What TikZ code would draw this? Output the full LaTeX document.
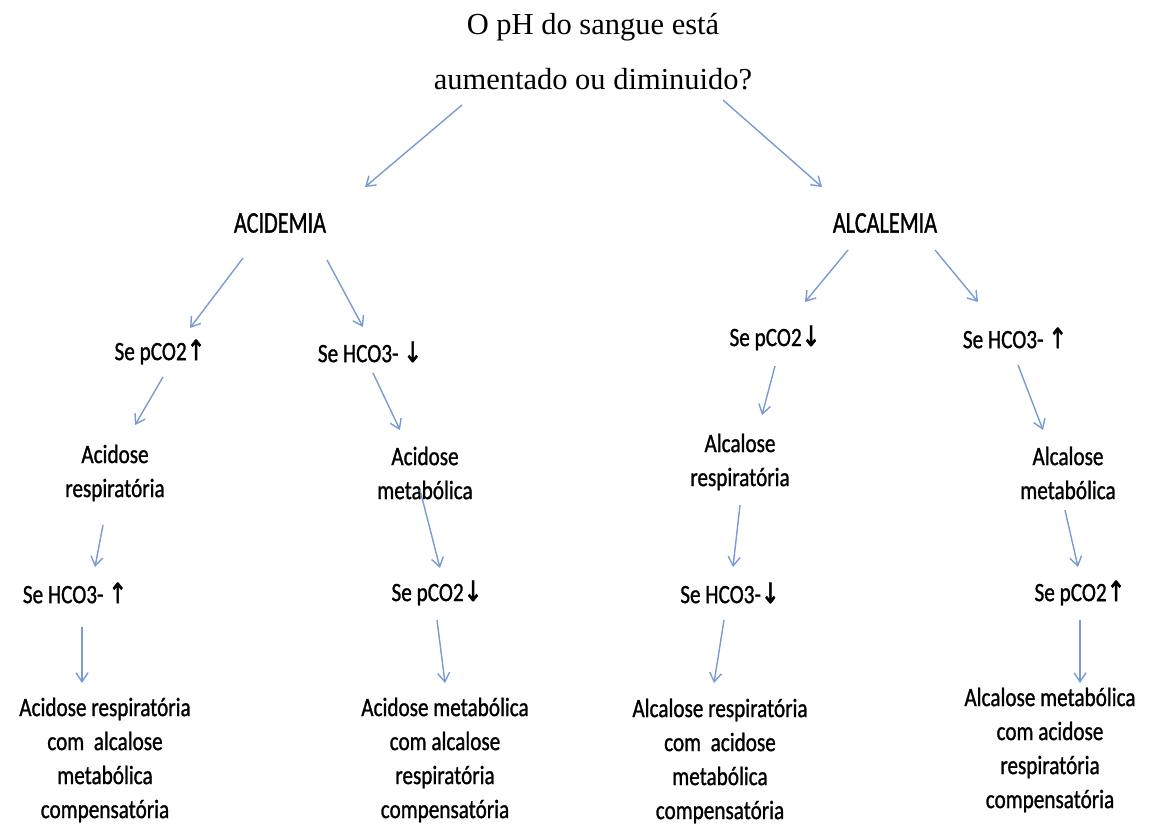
\documentclass[tikz,border=0pt]{standalone}
\usepackage{fontspec}
\setmainfont{Liberation Serif}
\newfontfamily\boxfont[FakeStretch=0.8,FakeBold=1]{Carlito}
\newfontfamily\headfont[FakeStretch=0.74,FakeBold=1]{Carlito}
\newfontfamily\arrowfont[FakeStretch=0.8,FakeBold=2]{DejaVu Sans}
\usetikzlibrary{arrows.meta}
\definecolor{arrowBlue}{RGB}{120,155,210}
\newcommand{\arrUp}{{\arrowfont\fontsize{28}{34}\selectfont ↑}}
\newcommand{\arrDown}{{\arrowfont\fontsize{28}{34}\selectfont ↓}}

\begin{document}
\begin{tikzpicture}[x=1pt,y=-1pt,%%
  arrowStyle/.style={-{Straight Barb[length=9pt,width=12pt]},arrowBlue,line width=1.4pt},%%
  textStyle/.style={font=\boxfont\fontsize{26.5}{34}\selectfont,align=center,inner sep=0pt},%%
  headStyle/.style={font=\headfont\fontsize{30}{34}\selectfont,inner sep=0pt},%%
  titleStyle/.style={font=\fontsize{30.5}{55}\selectfont,align=center,inner sep=0pt}%%
]
%%
\useasboundingbox (0,0) rectangle (1154,828);
%%
%% The question on top.
\node[titleStyle] (title) at (593,52) {O pH do sangue está\\aumentado ou diminuido?};
%%
%% First level.
\node[headStyle] (acid) at (280,223) {ACIDEMIA};
\node[headStyle] (alcal) at (885,223) {ALCALEMIA};
%%
%% Second level.
\node[textStyle] (lpA) at (160,352) {Se pCO2\arrUp};
\node[textStyle] (lhA) at (370,352) {Se HCO3- \arrDown};
\node[textStyle] (rpA) at (775,338) {Se pCO2\arrDown};
\node[textStyle] (rhA) at (1015,338) {Se HCO3- \arrUp};
%%
%% The four disorders.
\node[textStyle] (acidResp) at (115,473) {Acidose\\respiratória};
\node[textStyle] (acidMet) at (425,473) {Acidose\\metabólica};
\node[textStyle] (alcResp) at (740,462) {Alcalose\\respiratória};
\node[textStyle] (alcMet) at (1068,473) {Alcalose\\metabólica};
%%
%% Third level.
\node[textStyle] (lhB) at (75,593) {Se HCO3- \arrUp};
\node[textStyle] (lpB) at (437,593) {Se pCO2\arrDown};
\node[textStyle] (rhB) at (730,593) {Se HCO3-\arrDown};
\node[textStyle] (rpB) at (1080,593) {Se pCO2\arrUp};
%%
%% Compensated disorders.
\node[textStyle] (finA) at (105,760) {Acidose respiratória\\com~ alcalose\\metabólica\\compensatória};
\node[textStyle] (finB) at (445,760) {Acidose metabólica\\com alcalose\\respiratória\\compensatória};
\node[textStyle] (finC) at (720,761) {Alcalose respiratória\\com~ acidose\\metabólica\\compensatória};
\node[textStyle] (finD) at (1050,750) {Alcalose metabólica\\com acidose\\respiratória\\compensatória};
%%
%% Arrows.
\draw[arrowStyle] ([shift={(-131,53)}]title.center) -- ([shift={(85,-36)}]acid.center);
\draw[arrowStyle] ([shift={(130,48)}]title.center) -- ([shift={(-63,-36)}]alcal.center);
%%
\draw[arrowStyle] ([shift={(-37,35)}]acid.center) -- ([shift={(30,-24)}]lpA.center);
\draw[arrowStyle] ([shift={(47,37)}]acid.center) -- ([shift={(-7,-25)}]lhA.center);
\draw[arrowStyle] ([shift={(-37,27)}]alcal.center) -- ([shift={(30,-36)}]rpA.center);
\draw[arrowStyle] ([shift={(50,27)}]alcal.center) -- ([shift={(-37,-36)}]rhA.center);
%%
\draw[arrowStyle] ([shift={(3,25)}]lpA.center) -- ([shift={(20,-48)}]acidResp.center);
\draw[arrowStyle] ([shift={(3,21)}]lhA.center) -- ([shift={(-25,-43)}]acidMet.center);
\draw[arrowStyle] ([shift={(0,28)}]rpA.center) -- ([shift={(22,-47)}]alcResp.center);
\draw[arrowStyle] ([shift={(3,27)}]rhA.center) -- ([shift={(-25,-43)}]alcMet.center);
%%
\draw[arrowStyle] ([shift={(-12,52)}]acidResp.center) -- ([shift={(20,-26)}]lhB.center);
\draw[arrowStyle] ([shift={(-5,17)}]acidMet.center) -- ([shift={(3,-25)}]lpB.center);
\draw[arrowStyle] ([shift={(0,43)}]alcResp.center) -- ([shift={(3,-26)}]rhB.center);
\draw[arrowStyle] ([shift={(-3,37)}]alcMet.center) -- ([shift={(-2,-26)}]rpB.center);
%%
\draw[arrowStyle] ([shift={(7,34)}]lhB.center) -- ([shift={(-23,-77)}]finA.center);
\draw[arrowStyle] ([shift={(0,27)}]lpB.center) -- ([shift={(0,-77)}]finB.center);
\draw[arrowStyle] ([shift={(-6,27)}]rhB.center) -- ([shift={(-6,-78)}]finC.center);
\draw[arrowStyle] ([shift={(0,27)}]rpB.center) -- ([shift={(30,-67)}]finD.center);
\end{tikzpicture}
\end{document}
